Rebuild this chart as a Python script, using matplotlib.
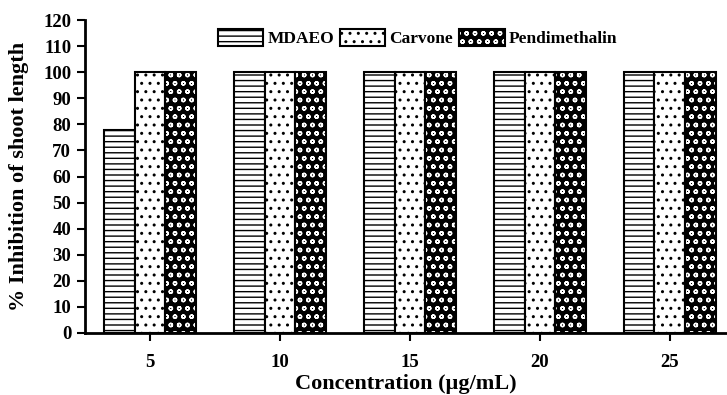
import numpy as np
import matplotlib
matplotlib.use("Agg")
import matplotlib.pyplot as plt
from matplotlib.patches import Patch

# data
concentrations = ["5", "10", "15", "20", "25"]
mdaeo = [78, 100, 100, 100, 100]
carvone = [100, 100, 100, 100, 100]
pendimethalin = [100, 100, 100, 100, 100]

plt.rcParams["font.family"] = ["Liberation Serif", "DejaVu Serif"]
plt.rcParams["font.weight"] = "bold"
plt.rcParams["hatch.linewidth"] = 1.0

fig = plt.figure(figsize=(7.27, 3.95), dpi=100)
ax = fig.add_axes([0.117, 0.157, 0.883, 0.792])

x = np.arange(len(concentrations))
w = 0.236

ax.bar(x - w, mdaeo, w, facecolor="white", edgecolor="black", hatch="---", linewidth=1.5)
ax.bar(x, carvone, w, facecolor="white", edgecolor="black", hatch="..", linewidth=1.5)
# checker-like pattern: black fill with white circles, outlined in black
ax.bar(x + w, pendimethalin, w, facecolor="black", edgecolor="white", hatch="oo", linewidth=0)
ax.bar(x + w, pendimethalin, w, fill=False, edgecolor="black", linewidth=1.5)

ax.set_xlim(-0.5, 4.44)
ax.set_ylim(0, 120)
ax.set_yticks(range(0, 121, 10))
ax.set_xticks(x)
ax.set_xticklabels(concentrations, fontsize=13.5, fontweight="bold")
for lab in ax.get_yticklabels():
    lab.set_fontsize(13.5)
    lab.set_fontweight("bold")
ax.tick_params(axis="x", direction="out", length=6, width=1.5, pad=9)
ax.tick_params(axis="y", direction="out", length=6, width=1.5, pad=4)

for s in ["top", "right"]:
    ax.spines[s].set_visible(False)
for s in ["left", "bottom"]:
    ax.spines[s].set_linewidth(2)

ax.set_xlabel("Concentration (µg/mL)", fontsize=16, fontweight="bold", labelpad=2)
ax.set_ylabel("% Inhibition of shoot length", fontsize=16, fontweight="bold", labelpad=10)

h_mdaeo = Patch(facecolor="white", edgecolor="black", hatch="---", linewidth=1.5)
h_carv = Patch(facecolor="white", edgecolor="black", hatch="..", linewidth=1.5)
h_pend = (Patch(facecolor="black", edgecolor="white", hatch="oo", linewidth=0),
          Patch(fill=False, edgecolor="black", linewidth=1.5))
ax.legend([h_mdaeo, h_carv, h_pend], ["MDAEO", "Carvone", "Pendimethalin"],
          loc="center", bbox_to_anchor=(0.518, 0.943), ncol=3,
          frameon=False, handlelength=2.6, handleheight=1.2, handletextpad=0.25,
          columnspacing=0.35, prop={"size": 12.5, "weight": "bold"})

fig.savefig("out.png", dpi=100)
